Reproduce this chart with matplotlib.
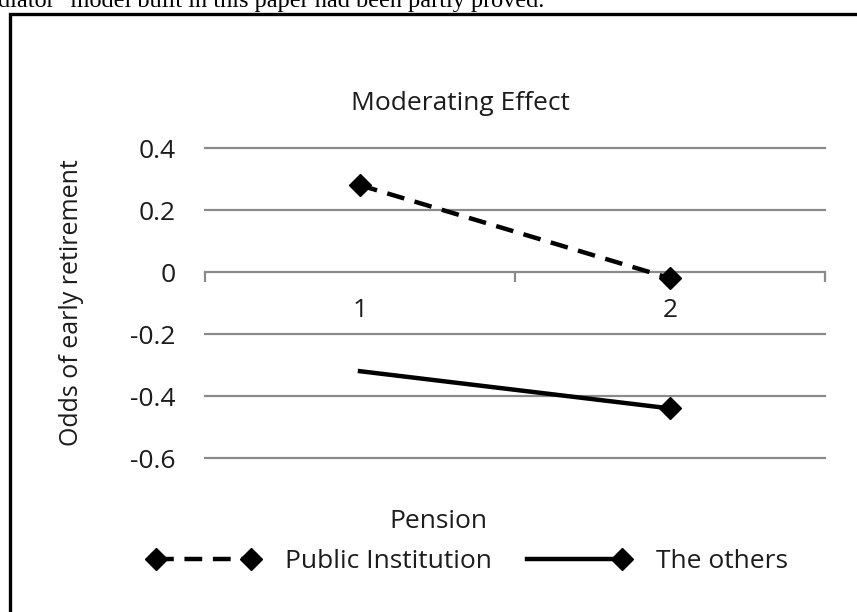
import matplotlib.pyplot as plt
from matplotlib.patches import Rectangle
from matplotlib.legend_handler import HandlerLine2D

# values
categories = ["1", "2"]
public_values = [0.28, -0.02]
other_values = [-0.32, -0.44]
y_ticks = [0.4, 0.2, 0, -0.2, -0.4, -0.6]
y_tick_labels = ["0.4", "0.2", "0", "-0.2", "-0.4", "-0.6"]

W, H = 857, 612
TXT = "#1c1c1c"
GRID = "#8a8a8a"
FS = 19
plt.rcParams["font.family"] = ["Open Sans", "DejaVu Sans"]


class RightMarkerOnly(HandlerLine2D):
    # legend entry with a diamond only at the right end
    def create_artists(self, *args, **kwargs):
        arts = super().create_artists(*args, **kwargs)
        arts[0].set_markevery([1])
        return arts


fig = plt.figure(figsize=(W / 100, H / 100), dpi=100)

# frame around the chart (continues past the right and bottom edge)
fig.patches.append(Rectangle((10 / W, -0.05), 1.1, 1 - 14 / H + 0.05,
                             transform=fig.transFigure, fill=False,
                             edgecolor="black", linewidth=2.4))
# cut-off line of paper text above the chart
fig.text(-2 / W, 1 - 7 / H, "diator\" model built in this paper had been partly proved.",
         family="Liberation Serif", fontsize=17.5, color="black",
         ha="left", va="baseline")

left, right = 205 / W, 825 / W
bottom, top = 1 - 458 / H, 1 - 148 / H
ax = fig.add_axes([left, bottom, right - left, top - bottom])
ax.set_xlim(0.5, 2.5)
ax.set_ylim(-0.6, 0.4)

for y in y_ticks:
    if y != 0:
        ax.axhline(y, color=GRID, linewidth=1.6, zorder=1, clip_on=False)

x = [1, 2]
ax.plot(x, public_values, color="black", linewidth=3.2, linestyle=(0, (4, 2.4)),
        marker="D", markersize=11, zorder=3, label="Public Institution", clip_on=False)
others, = ax.plot(x, other_values, color="black", linewidth=3.2, marker="D",
                  markersize=11, markevery=[1], zorder=3, label="The others",
                  clip_on=False)

for s in ["top", "right", "left"]:
    ax.spines[s].set_visible(False)
ax.spines["bottom"].set_position(("data", 0))
ax.spines["bottom"].set_color(GRID)
ax.spines["bottom"].set_linewidth(1.6)

ax.set_yticks(y_ticks)
ax.set_yticklabels(y_tick_labels, fontsize=FS, color=TXT)
ax.tick_params(axis="y", length=0, pad=21)

ax.set_xticks(x)
ax.set_xticklabels(categories, fontsize=FS, color=TXT)
ax.set_xticks([0.5, 1.5, 2.5], minor=True)
ax.tick_params(axis="x", which="major", length=0, pad=19)
ax.tick_params(axis="x", which="minor", length=7, width=1.6, color=GRID, direction="out")

fig.text(460 / W, 1 - 103 / H, "Moderating Effect", fontsize=FS, color=TXT,
         ha="center", va="center")
fig.text(72 / W, 1 - 303 / H, "Odds of early retirement", fontsize=18, color=TXT,
         ha="center", va="center", rotation=90)
fig.text(438 / W, 1 - 522 / H, "Pension", fontsize=FS, color=TXT,
         ha="center", va="center")

leg = fig.legend(loc="center", bbox_to_anchor=(468 / W, 1 - 562 / H), ncol=2,
                 frameon=False, fontsize=FS, numpoints=2, handlelength=4.2,
                 handletextpad=1.0, columnspacing=1.0,
                 handler_map={others: RightMarkerOnly()})
for t in leg.get_texts():
    t.set_color(TXT)

fig.savefig("out.png", dpi=100)
